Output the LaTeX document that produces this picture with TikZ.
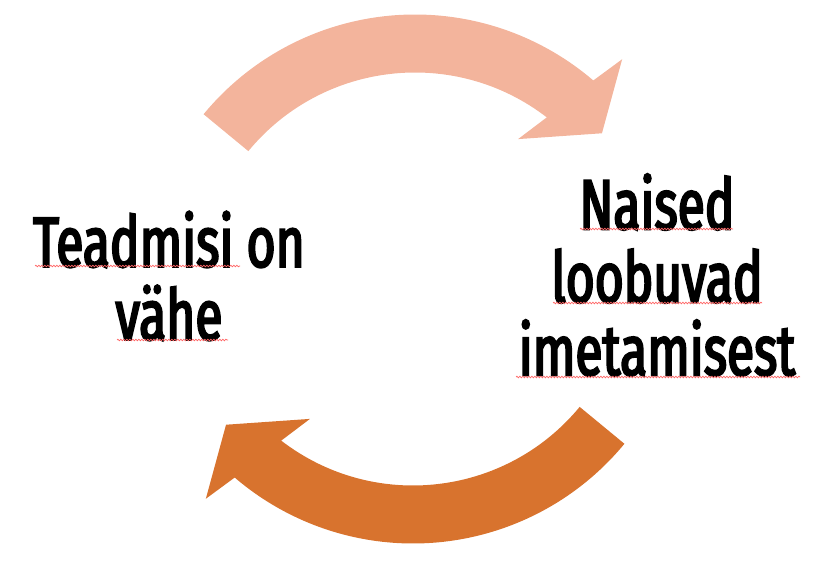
\documentclass[tikz,border=0pt]{standalone}
\usepackage{fontspec}
\newfontfamily\condfont[FakeStretch=0.70, FakeBold=3]{Fira Sans}
\usetikzlibrary{decorations.pathmorphing}
\definecolor{lightarrow}{RGB}{243,180,156}
\definecolor{darkarrow}{RGB}{216,115,46}
\definecolor{spell}{RGB}{255,100,100}
\tikzset{
  labeltext/.style={font=\condfont\fontsize{71}{73}\selectfont, align=center, inner sep=0pt},
  spellmark/.style={draw=spell, line width=0.7pt, decorate, decoration={snake, amplitude=0.8pt, segment length=3pt}}
}
\begin{document}
\begin{tikzpicture}
\useasboundingbox (0,0) rectangle (818pt,560pt);
% top arrow
\begin{scope}[shift={(415pt,271.5pt)}]
\fill[lightarrow] (140.5:274pt) arc[start angle=140.5,end angle=49.4,radius=274pt]
  -- (47.9:309pt) -- (39.7:243pt) -- (55.4:181.5pt) -- (52.4:216pt)
  arc[start angle=52.4,end angle=140.5,radius=216pt] -- cycle;
\end{scope}
% bottom arrow
\begin{scope}[shift={(413pt,290.5pt)}, rotate=180]
\fill[darkarrow] (140.5:274pt) arc[start angle=140.5,end angle=49.4,radius=274pt]
  -- (47.9:309pt) -- (39.7:243pt) -- (55.4:181.5pt) -- (52.4:216pt)
  arc[start angle=52.4,end angle=140.5,radius=216pt] -- cycle;
\end{scope}
\node[labeltext] (know) at (169pt,284pt) {Teadmisi on\\vähe};
\node[labeltext] (quit) at (657pt,285pt) {Naised\\loobuvad\\imetamisest};
\path[spellmark] (35pt,294pt) -- (240pt,294pt);
\path[spellmark] (117pt,220pt) -- (228pt,220pt);
\path[spellmark] (580pt,331pt) -- (733pt,331pt);
\path[spellmark] (553pt,257pt) -- (762pt,257pt);
\path[spellmark] (516pt,183pt) -- (800pt,183pt);
\end{tikzpicture}
\end{document}
